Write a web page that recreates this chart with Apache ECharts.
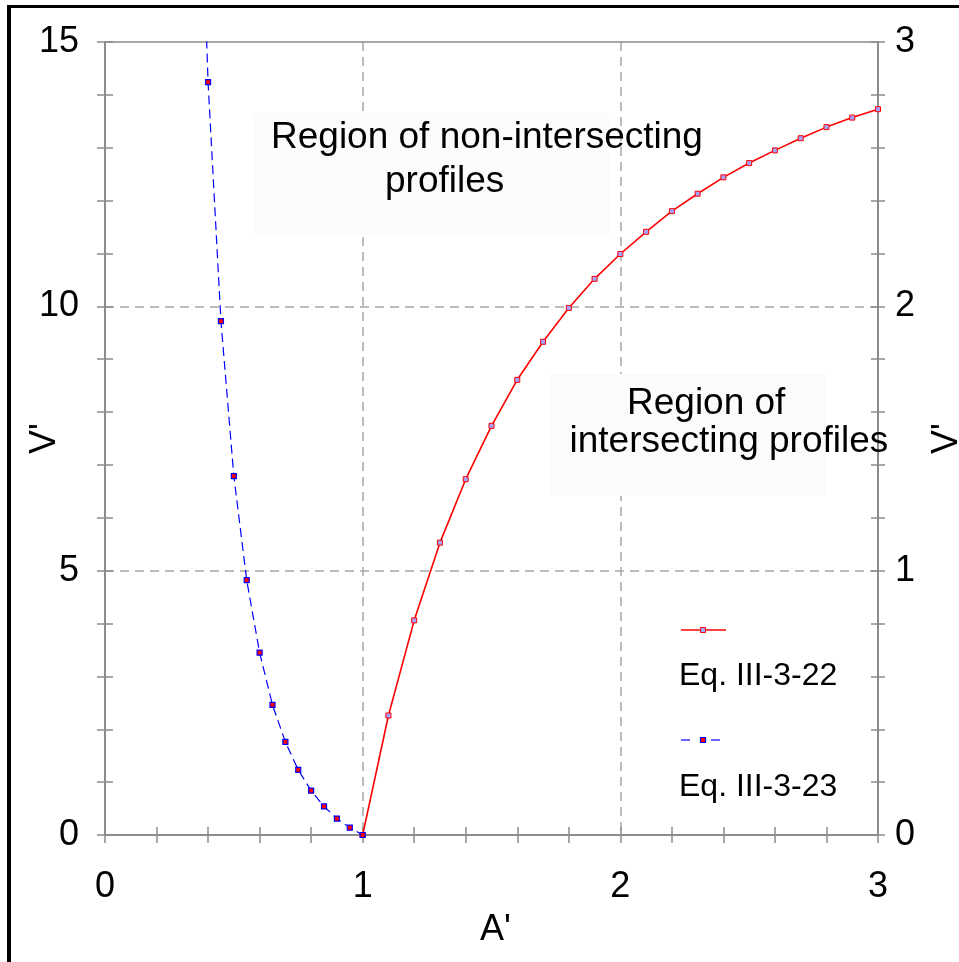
<!DOCTYPE html>
<html>
<head>
<meta charset="utf-8">
<script src="https://cdn.jsdelivr.net/npm/echarts@6/dist/echarts.min.js"></script>
<style>html,body{margin:0;padding:0;background:#fff;}#c{width:959px;height:962px;}</style>
</head>
<body>
<div id="c"></div>
<script>
// ---- data ----
const xTickLabels = ['0', '1', '2', '3'];
const yLeftTickLabels = ['0', '5', '10', '15'];
const yRightTickLabels = ['0', '1', '2', '3'];
const seriesNames = ['Eq. III-3-22', 'Eq. III-3-23'];
const eq22A = [1.0, 1.1, 1.2, 1.3, 1.4, 1.5, 1.6, 1.7, 1.8, 1.9, 2.0, 2.1, 2.2, 2.3, 2.4, 2.5, 2.6, 2.7, 2.8, 2.9, 3.0];
const eq22V = [0, 2.26, 4.06, 5.53, 6.73, 7.74, 8.61, 9.33, 9.97, 10.52, 10.99, 11.41, 11.80, 12.13, 12.44, 12.71, 12.95, 13.18, 13.39, 13.57, 13.73];
const eq23A = [0.35, 0.40, 0.45, 0.50, 0.55, 0.60, 0.65, 0.70, 0.75, 0.80, 0.85, 0.90, 0.95, 1.00];
const eq23V = [21.4, 14.24, 9.72, 6.79, 4.82, 3.45, 2.46, 1.76, 1.23, 0.84, 0.54, 0.31, 0.14, 0];
const regionTexts = [['Region of non-intersecting', 'profiles'], ['Region of', 'intersecting profiles']];
const axisNames = { x: "A'", yLeft: "V'", yRight: "V'" };

// ---- styling ----
const FONT = "'Liberation Sans', Arial, sans-serif";
const AX = '#8c8c8c';
const gridDash = { color: '#a8a8a8', width: 1.5, type: [9, 6] };
const tickStyle = { color: AX, width: 1.5 };

function labelFrom(arr, step) {
  return v => { const i = Math.round(v / step); return Math.abs(v - i * step) < 1e-6 ? arr[i] : ''; };
}

const chart = echarts.init(document.getElementById('c'), null, { renderer: 'canvas' });

const option = {
  animation: false,
  backgroundColor: '#ffffff',
  grid: { left: 105, top: 42, width: 773, height: 793, show: true, borderColor: AX, borderWidth: 1.5, backgroundColor: 'transparent', outerBoundsMode: 'none' },
  xAxis: [
    {
      type: 'value', position: 'bottom', min: 0, max: 3, interval: 1,
      axisLine: { show: true, onZero: false, lineStyle: { color: AX, width: 2 } },
      axisTick: { show: true, inside: false, length: 8, lineStyle: tickStyle },
      minorTick: { show: true, splitNumber: 5, length: 8, lineStyle: tickStyle },
      axisLabel: { margin: 34, fontSize: 36, color: '#000', fontFamily: FONT, formatter: labelFrom(xTickLabels, 1) },
      splitLine: { show: true, lineStyle: gridDash },
      name: axisNames.x, nameLocation: 'middle', nameGap: 77, nameMoveOverlap: false,
      nameTextStyle: { fontSize: 36, color: '#000', fontFamily: FONT, padding: [0, 0, 0, 8] }
    },
    {
      type: 'value', position: 'bottom', min: 0, max: 3, interval: 1,
      axisLine: { show: false, onZero: false },
      axisTick: { show: true, inside: true, length: 8, lineStyle: tickStyle },
      minorTick: { show: true, splitNumber: 5, length: 8, lineStyle: tickStyle },
      axisLabel: { show: false }, splitLine: { show: false }
    }
  ],
  yAxis: [
    {
      type: 'value', position: 'left', min: 0, max: 15, interval: 5,
      axisLine: { show: true, onZero: false, lineStyle: { color: AX, width: 2 } },
      axisTick: { show: true, inside: false, length: 8, lineStyle: tickStyle },
      minorTick: { show: true, splitNumber: 5, length: 8, lineStyle: tickStyle },
      axisLabel: { margin: 26, fontSize: 36, color: '#000', fontFamily: FONT, formatter: labelFrom(yLeftTickLabels, 5) },
      splitLine: { show: true, lineStyle: gridDash },
      name: axisNames.yLeft, nameLocation: 'middle', nameGap: 42, nameRotate: 90, nameMoveOverlap: false,
      nameTextStyle: { fontSize: 36, color: '#000', fontFamily: FONT }
    },
    {
      type: 'value', position: 'left', min: 0, max: 15, interval: 5,
      axisLine: { show: false, onZero: false },
      axisTick: { show: true, inside: true, length: 8, lineStyle: tickStyle },
      minorTick: { show: true, splitNumber: 5, length: 8, lineStyle: tickStyle },
      axisLabel: { show: false }, splitLine: { show: false }
    },
    {
      type: 'value', position: 'right', min: 0, max: 3, interval: 1,
      axisLine: { show: true, onZero: false, lineStyle: { color: AX, width: 2 } },
      axisTick: { show: true, inside: false, length: 7, lineStyle: tickStyle },
      minorTick: { show: true, splitNumber: 5, length: 7, lineStyle: tickStyle },
      axisLabel: { margin: 17, fontSize: 36, color: '#000', fontFamily: FONT, formatter: labelFrom(yRightTickLabels, 1) },
      splitLine: { show: false },
      name: axisNames.yRight, nameLocation: 'middle', nameGap: 51, nameRotate: 90, nameMoveOverlap: false,
      nameTextStyle: { fontSize: 36, color: '#000', fontFamily: FONT }
    },
    {
      type: 'value', position: 'right', min: 0, max: 3, interval: 1,
      axisLine: { show: false, onZero: false },
      axisTick: { show: true, inside: true, length: 7, lineStyle: tickStyle },
      minorTick: { show: true, splitNumber: 5, length: 7, lineStyle: tickStyle },
      axisLabel: { show: false }, splitLine: { show: false }
    }
  ],
  series: [
    {
      type: 'line', name: seriesNames[0], xAxisIndex: 0, yAxisIndex: 0,
      data: eq22A.map((a, i) => [a, eq22V[i]]),
      symbol: 'rect', symbolSize: 5, showSymbol: true, clip: true, silent: true, z: 3,
      lineStyle: { color: '#ff0000', width: 1.6 },
      itemStyle: { color: '#a3a3ff', borderColor: '#ff0000', borderWidth: 1 },
      emphasis: { disabled: true }
    },
    {
      type: 'line', name: seriesNames[1], xAxisIndex: 0, yAxisIndex: 0,
      data: eq23A.map((a, i) => [a, eq23V[i]]),
      symbol: 'rect', symbolSize: 5, showSymbol: true, clip: true, silent: true, z: 4,
      lineStyle: { color: '#0000ff', width: 1.2, type: [9, 5] },
      itemStyle: { color: '#ff0000', borderColor: '#0000ff', borderWidth: 1.2 },
      emphasis: { disabled: true }
    }
  ],
  graphic: {
    elements: [
      // outer frame (left and top edges)
      { type: 'rect', z: 10, silent: true, shape: { x: 7, y: 5, width: 4, height: 957 }, style: { fill: '#000' } },
      { type: 'rect', z: 10, silent: true, shape: { x: 7, y: 5, width: 952, height: 3 }, style: { fill: '#000' } },
      // annotation boxes
      { type: 'rect', z: 1, silent: true, shape: { x: 253, y: 113, width: 356, height: 122 }, style: { fill: '#fcfbf9' } },
      { type: 'text', z: 5, silent: true, x: 271, y: 138, style: { text: regionTexts[0][0], font: '37px ' + FONT, fill: '#000', align: 'left', verticalAlign: 'middle' } },
      { type: 'text', z: 5, silent: true, x: 385, y: 182, style: { text: regionTexts[0][1], font: '37px ' + FONT, fill: '#000', align: 'left', verticalAlign: 'middle' } },
      { type: 'rect', z: 1, silent: true, shape: { x: 550, y: 374, width: 276, height: 122 }, style: { fill: '#fcfbf9' } },
      { type: 'text', z: 5, silent: true, x: 627, y: 404, style: { text: regionTexts[1][0], font: '37px ' + FONT, fill: '#000', align: 'left', verticalAlign: 'middle' } },
      { type: 'text', z: 5, silent: true, x: 569.5, y: 442, style: { text: regionTexts[1][1], font: '37px ' + FONT, fill: '#000', align: 'left', verticalAlign: 'middle' } },
      // legend
      { type: 'line', z: 5, silent: true, shape: { x1: 681, y1: 630, x2: 726, y2: 630 }, style: { stroke: '#ff0000', lineWidth: 1.6 } },
      { type: 'rect', z: 6, silent: true, shape: { x: 700.5, y: 627.5, width: 5, height: 5 }, style: { fill: '#a3a3ff', stroke: '#ff0000', lineWidth: 1 } },
      { type: 'text', z: 5, silent: true, x: 679, y: 676, style: { text: seriesNames[0], font: '32px ' + FONT, fill: '#000', align: 'left', verticalAlign: 'middle' } },
      { type: 'line', z: 5, silent: true, shape: { x1: 681, y1: 740, x2: 690, y2: 740 }, style: { stroke: '#0000ff', lineWidth: 1.2 } },
      { type: 'line', z: 5, silent: true, shape: { x1: 711, y1: 740, x2: 720, y2: 740 }, style: { stroke: '#0000ff', lineWidth: 1.2 } },
      { type: 'rect', z: 6, silent: true, shape: { x: 700.5, y: 737.5, width: 5, height: 5 }, style: { fill: '#ff0000', stroke: '#0000ff', lineWidth: 1.2 } },
      { type: 'text', z: 5, silent: true, x: 679, y: 787, style: { text: seriesNames[1], font: '32px ' + FONT, fill: '#000', align: 'left', verticalAlign: 'middle' } }
    ]
  }
};
chart.setOption(option);
</script>
</body>
</html>
